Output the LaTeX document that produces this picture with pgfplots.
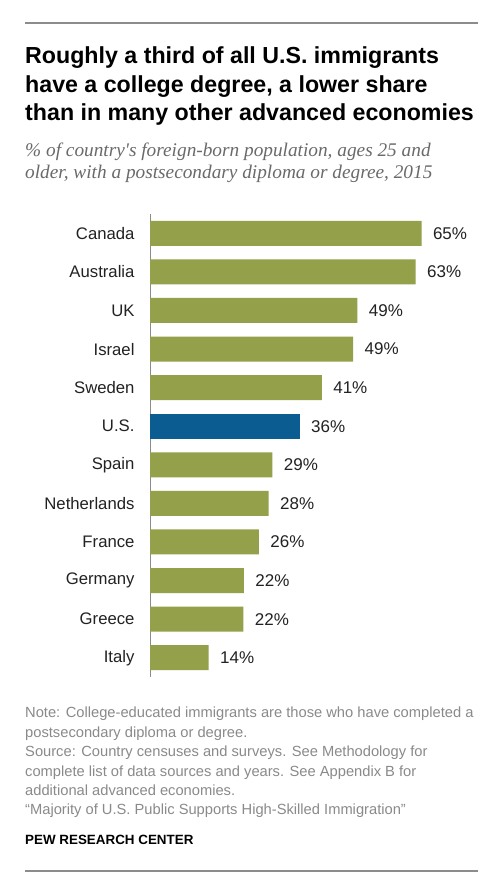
\documentclass[border=0pt]{standalone}
\usepackage{fontspec}
\setmainfont{Liberation Sans}
\newfontfamily\serifit{Liberation Serif}
\usepackage{pgfplots}
\pgfplotsset{compat=1.18}
\definecolor{pewgreen}{HTML}{95A04A}
\definecolor{pewblue}{HTML}{0B5C91}
\definecolor{notegray}{HTML}{8A8A8A}
\definecolor{subgray}{HTML}{6A6A6A}
\definecolor{rulegray}{HTML}{8C8C8C}
\definecolor{labblack}{HTML}{222222}
\begin{document}
\begin{tikzpicture}[x=1pt,y=1pt]
\fill[white] (0,0) rectangle (500,-889);
\draw[rulegray,line width=2pt] (25,-23) -- (478,-23);
\draw[rulegray,line width=2pt] (25,-871) -- (478,-871);
% title
\begin{scope}[every node/.style={anchor=base west,inner sep=0,font=\fontsize{23.2}{27}\selectfont\bfseries}]
\node at (25,-63) {Roughly a third of all U.S. immigrants};
\node at (25,-92) {have a college degree, a lower share};
\node at (25,-120) {than in many other advanced economies};
\end{scope}
% subtitle
\begin{scope}[every node/.style={anchor=base west,inner sep=0,text=subgray,font=\fontsize{19.3}{21}\selectfont\serifit\itshape}]
\node at (25,-156.5) {\% of country's foreign-born population, ages 25 and};
\node at (25,-178.5) {older, with a postsecondary diploma or degree, 2015};
\end{scope}
% notes
\begin{scope}[every node/.style={anchor=base west,inner sep=0,text=notegray,font=\fontsize{14.7}{16}\selectfont}]
\node at (25,-717.5) {Note: College-educated immigrants are those who have completed a};
\node at (25,-737) {postsecondary diploma or degree.};
\node at (25,-756.5) {Source: Country censuses and surveys. See Methodology for};
\node at (25,-776) {complete list of data sources and years. See Appendix B for};
\node at (25,-795.5) {additional advanced economies.};
\node at (25,-814.5) {``Majority of U.S. Public Supports High-Skilled Immigration''};
\end{scope}
\node[anchor=base west,inner sep=0,font=\fontsize{13.4}{16}\selectfont\bfseries] at (25,-844) {PEW RESEARCH CENTER};
\begin{axis}[
  at={(150pt,-214pt)}, anchor=north west,
  scale only axis, width=335.2pt, height=463pt,
  xmin=0, xmax=80, ymin=-0.5, ymax=11.5,
  y dir=reverse,
  xbar, bar width=25pt,
  axis x line=none,
  axis y line*=left,
  axis line style={-,draw=black!45,line width=0.8pt},
  ytick={0,...,11},
  yticklabels={Canada,Australia,UK,Israel,Sweden,U.S.,Spain,Netherlands,France,Germany,Greece,Italy},
  major tick length=0pt,
  yticklabel style={font=\fontsize{16.7}{18}\selectfont,text=labblack,xshift=-12pt},
  point meta=explicit,
  /pgf/number format/assume math mode=true,
  nodes near coords={\pgfmathprintnumber[fixed,precision=0]{\pgfplotspointmeta}\%},
  nodes near coords style={anchor=west,font=\fontsize{17}{18}\selectfont,text=labblack,xshift=8pt},
  clip=false,
]
\addplot[fill=pewgreen,draw=none,bar shift=0pt] table[x=x,y=y,meta=m] {
y x m
0 64.8 65
1 63.4 63
2 49.5 49
3 48.5 49
4 41.0 41
6 29.2 29
7 28.3 28
8 26.0 26
9 22.4 22
10 22.3 22
11 14.0 14
};
\addplot[fill=pewblue,draw=none,bar shift=0pt] table[x=x,y=y,meta=m] {
y x m
5 35.7 36
};
\end{axis}
\end{tikzpicture}
\end{document}
